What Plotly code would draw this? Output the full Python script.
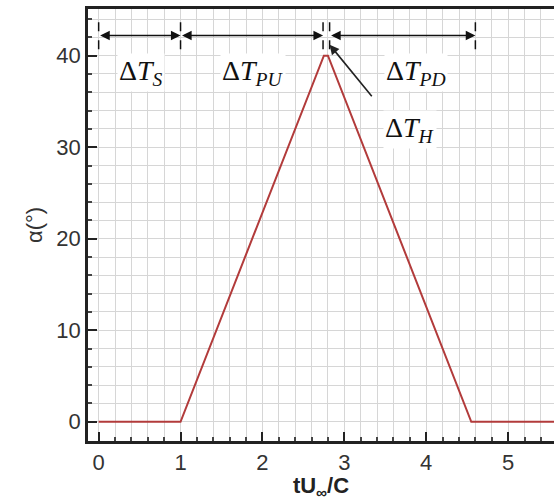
import plotly.graph_objects as go

# Pitch-up / hold / pitch-down motion profile
t_profile = [0.0, 1.0, 2.75, 2.80, 4.55, 5.6]
alpha_profile = [0, 0, 40, 40, 0, 0]

# Phase boundaries marked above the curve
phase_edges = [0.0, 1.0, 2.74, 2.82, 4.6]
phase_subs = ["S", "PU", "PD", "H"]

x_ticks = [0, 1, 2, 3, 4, 5]
y_ticks = [0, 10, 20, 30, 40]


def delta_label(sub):
    return "Δ<i>T<sub>%s</sub></i>" % sub


fig = go.Figure()
fig.add_trace(go.Scatter(x=t_profile, y=alpha_profile, mode="lines",
                         line=dict(color="#b23b3b", width=2), showlegend=False,
                         hoverinfo="skip"))

# dashed phase markers
y_lo, y_hi, y_arrow = 40.7, 44.2, 42.2
for e in phase_edges:
    fig.add_shape(type="line", x0=e, x1=e, y0=y_lo, y1=y_hi, xref="x", yref="y",
                  line=dict(color="#111", width=1.5, dash="dash"))

# double-headed span arrows
spans = [(phase_edges[0], phase_edges[1]), (phase_edges[1], phase_edges[2]),
         (phase_edges[3], phase_edges[4])]
for a, b in spans:
    fig.add_annotation(x=b, y=y_arrow, ax=a, ay=y_arrow, xref="x", yref="y",
                       axref="x", ayref="y", text="", showarrow=True,
                       arrowhead=2, arrowside="end+start", arrowsize=1.2,
                       arrowwidth=1.6, arrowcolor="#111")

label_font = dict(family="Liberation Serif, Times New Roman, serif", size=28, color="#111")
label_pos = [(0.52, 38.2), (1.88, 38.2), (3.88, 38.2)]
for (lx, ly), sub in zip(label_pos, phase_subs[:3]):
    fig.add_annotation(x=lx, y=ly, xref="x", yref="y", showarrow=False,
                       text=delta_label(sub), font=label_font, bgcolor="white")

# hold-phase label with pointer
fig.add_annotation(x=3.8, y=31.9, xref="x", yref="y", showarrow=False,
                   text=delta_label(phase_subs[3]), font=label_font, bgcolor="white")
fig.add_annotation(x=2.82, y=41.2, ax=3.35, ay=35.4, xref="x", yref="y",
                   axref="x", ayref="y", text="", showarrow=True, arrowhead=2,
                   arrowsize=1.2, arrowwidth=1.6, arrowcolor="#222")

tick_font = dict(family="Liberation Sans, Arial, sans-serif", size=22, color="#333")
fig.update_layout(
    width=554, height=501,
    margin=dict(l=88, r=0, t=9, b=60),
    paper_bgcolor="white", plot_bgcolor="white",
    xaxis=dict(range=[-0.13, 5.56], tickvals=x_ticks, ticktext=[str(v) for v in x_ticks],
               ticks="inside", ticklen=9, tickwidth=2, tickcolor="#222",
               minor=dict(dtick=0.2, tick0=0, ticks="inside", ticklen=4, tickcolor="#444",
                          showgrid=True, gridcolor="#d6d6d6", gridwidth=1),
               showgrid=False, zeroline=False,
               showline=True, linecolor="#222", linewidth=2.5, mirror=True,
               tickfont=tick_font,
               title=dict(text="<b>tU<sub>∞</sub>/C</b>", standoff=0,
                          font=dict(family="Liberation Sans, Arial, sans-serif",
                                    size=22, color="#222"))),
    yaxis=dict(range=[-2.1, 45.1], tickvals=y_ticks, ticktext=[str(v) for v in y_ticks],
               ticks="inside", ticklen=9, tickwidth=2, tickcolor="#222",
               minor=dict(dtick=2, tick0=0, ticks="inside", ticklen=4, tickcolor="#444",
                          showgrid=True, gridcolor="#d6d6d6", gridwidth=1),
               showgrid=False, zeroline=False,
               showline=True, linecolor="#222", linewidth=2.5, mirror=False,
               tickfont=tick_font,
               title=dict(text="α(°)", standoff=8,
                          font=dict(family="Liberation Sans, Arial, sans-serif",
                                    size=22, color="#333"))),
)

fig.write_html("out.html")
